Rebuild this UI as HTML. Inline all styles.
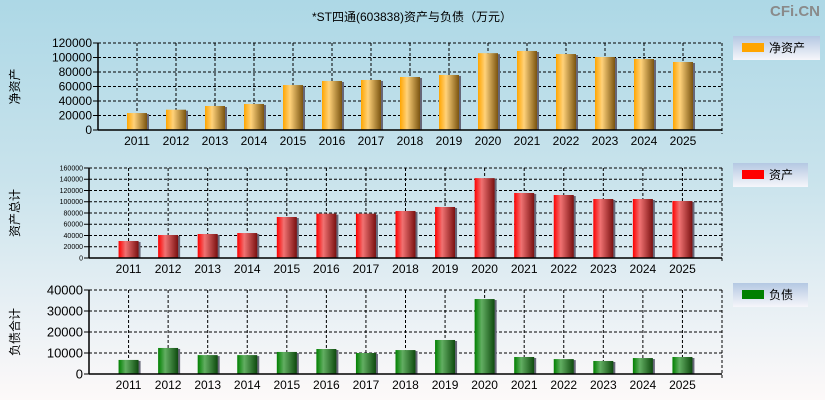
<!DOCTYPE html>
<html><head><meta charset="utf-8"><style>
html,body{margin:0;padding:0;}
body{width:825px;height:400px;overflow:hidden;background:linear-gradient(#add8e6 0%,#c9e3ec 45%,#e6eff4 75%,#fdf9f9 100%);font-family:"Liberation Sans","Noto Sans CJK SC",sans-serif;}
svg{display:block;}
</style></head><body>
<svg id="c" width="825" height="400" xmlns="http://www.w3.org/2000/svg">
<defs>
<linearGradient id="gO" x1="0" x2="1"><stop offset="0" stop-color="#ffa500"/><stop offset="0.35" stop-color="#ffd27a"/><stop offset="1" stop-color="#7a5410"/></linearGradient>
<linearGradient id="gR" x1="0" x2="1"><stop offset="0" stop-color="#ff0000"/><stop offset="0.35" stop-color="#f07272"/><stop offset="1" stop-color="#7a1010"/></linearGradient>
<linearGradient id="gG" x1="0" x2="1"><stop offset="0" stop-color="#008000"/><stop offset="0.35" stop-color="#62ae62"/><stop offset="1" stop-color="#0e4a0e"/></linearGradient>
<linearGradient id="gL" x1="0" y1="0" x2="0" y2="1"><stop offset="0" stop-color="#b4c8e2"/><stop offset="1" stop-color="#f6f6fa"/></linearGradient>
</defs>
<text x="412" y="21" font-size="12" text-anchor="middle" fill="#000">*ST四通(603838)资产与负债（万元）</text>
<text x="820" y="16" font-size="15" font-weight="bold" text-anchor="end" fill="#8a8a8a">CFi.CN</text>
</svg>
<script>
const years=["2011","2012","2013","2014","2015","2016","2017","2018","2019","2020","2021","2022","2023","2024","2025"];
const netAssets=[23400,28000,33100,35900,62000,67600,69000,73100,75900,106000,109000,104800,100700,97900,93800];
const totalAssets=[30200,40900,42700,44400,72900,78800,78800,83600,90700,142000,115600,112000,104900,104900,101300];
const totalLiab=[6700,12400,9000,9000,10500,11900,10000,11400,16200,35700,8100,7100,6200,7600,8100];
const ticksNet=[0,20000,40000,60000,80000,100000,120000];
const ticksAssets=[0,20000,40000,60000,80000,100000,120000,140000,160000];
const ticksLiab=[0,10000,20000,30000,40000];
const svg=document.getElementById('c');
const NS='http://www.w3.org/2000/svg';
function mk(t,a,p){const e=document.createElementNS(NS,t);for(const k in a)e.setAttribute(k,a[k]);(p||svg).appendChild(e);return e;}
function panel(o){
  const g=mk('g',{});
  
  
  const max=o.ticks[o.ticks.length-1];
  const y=v=>o.y1-(v/max)*(o.y1-o.y0);
  const slot=(o.x1-o.x0)/16;
  const x=i=>o.x0+slot*(i+1);
  // grid horizontal
  o.ticks.forEach(t=>{
    if(t>0){const l=mk('line',{x1:o.x0,x2:o.x1,y1:y(t),y2:y(t),stroke:'#000','stroke-dasharray':'3,2','stroke-width':1},g);
    }
    mk('line',{x1:o.x0-5,x2:o.x0,y1:y(t),y2:y(t),stroke:'#000'},g);
    const tx=mk('text',{x:o.x0-6,y:y(t)+o.fs*0.35,'font-size':o.fs,'text-anchor':'end',fill:'#000'},g);
    tx.textContent=t;
    
    
  });
  years.forEach((yr,i)=>{
    const l=mk('line',{x1:x(i),x2:x(i),y1:o.y0,y2:o.y1,stroke:'#000','stroke-dasharray':'3,2'},g);
    
  });
  mk('line',{x1:o.x1,x2:o.x1,y1:o.y0,y2:o.y1+4,stroke:'#000','stroke-dasharray':'3,2'},g);
  mk('line',{x1:o.x0,x2:o.x1,y1:o.y0,y2:o.y0,stroke:'#000','stroke-dasharray':'3,2'},g);
  o.vals.forEach((v,i)=>{
    const top=y(v);
    mk('rect',{x:x(i)-10+2,y:top+1,width:20,height:o.y1-top-1,fill:'#667'},g);
    const b=mk('rect',{x:x(i)-10,y:top,width:20,height:o.y1-top,fill:'url(#'+o.grad+')'},g);
    
    
    const tx=mk('text',{x:x(i),y:o.y1+15,'font-size':12,'text-anchor':'middle',fill:'#000'},g);
    tx.textContent=years[i];
    
    
  });
  const ax=mk('line',{x1:o.x0,x2:o.x0,y1:o.y0,y2:o.y1,stroke:'#000','stroke-width':1.5},g);
  
  const bx=mk('line',{x1:o.x0,x2:o.x1,y1:o.y1,y2:o.y1,stroke:'#000','stroke-width':1.5},g);
  
  const cy=(o.y0+o.y1)/2;
  const t=mk('text',{x:19,y:cy,'font-size':12,'text-anchor':'middle',transform:'rotate(-90 19 '+cy+')',fill:'#000'},g);
  t.textContent=o.title;
  
  
  const lg=mk('g',{},g);
  
  
  mk('rect',{x:733,y:o.ly,width:o.lw,height:24,fill:'url(#gL)'},lg);
  mk('rect',{x:742,y:o.ly+7,width:22,height:9,fill:o.color},lg);
  const lt=mk('text',{x:769,y:o.ly+16,'font-size':12,fill:'#000'},lg);
  lt.textContent=o.label;
}
panel({name:'net-assets',vals:netAssets,ticks:ticksNet,x0:98,x1:722,y0:43,y1:130,fs:12,grad:'gO',color:'#ffa500',title:'净资产',label:'净资产',ly:36,lw:87});
panel({name:'total-assets',vals:totalAssets,ticks:ticksAssets,x0:89,x1:722,y0:168,y1:258,fs:7,grad:'gR',color:'#ff0000',title:'资产总计',label:'资产',ly:163,lw:75});
panel({name:'total-liabilities',vals:totalLiab,ticks:ticksLiab,x0:89,x1:722,y0:290,y1:374,fs:13,grad:'gG',color:'#008000',title:'负债合计',label:'负债',ly:283,lw:75});
</script>
</body></html>
